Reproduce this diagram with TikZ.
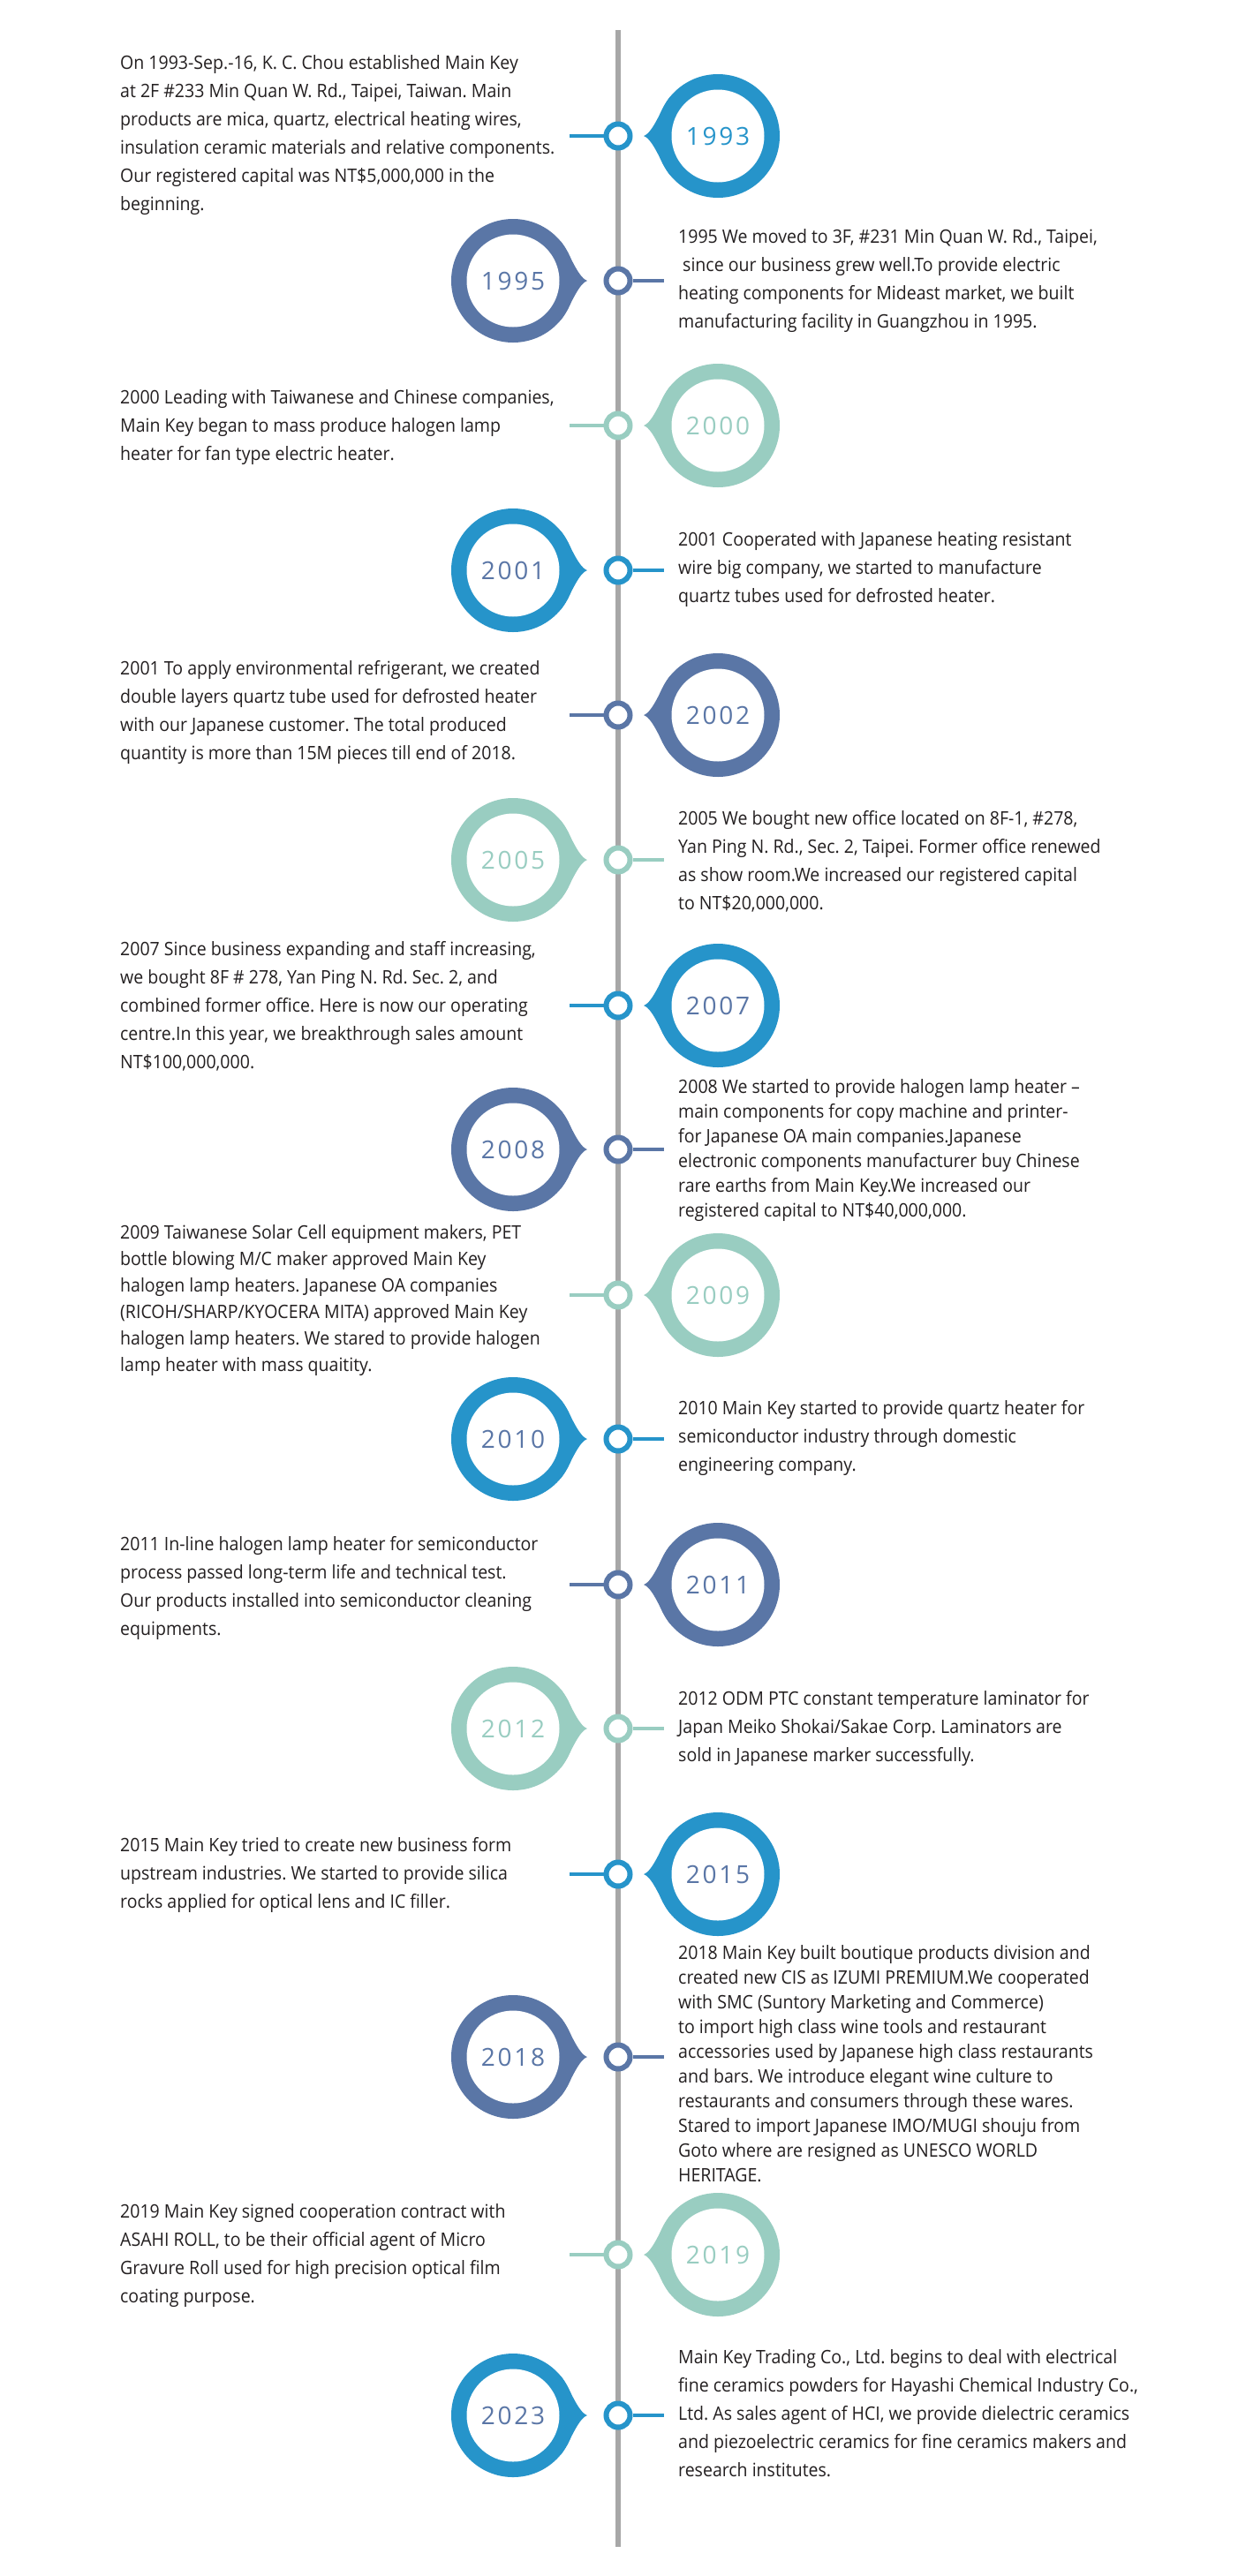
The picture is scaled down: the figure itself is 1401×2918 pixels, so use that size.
\documentclass[tikz,border=0pt]{standalone}
\usepackage{fontspec}
\setmainfont{Open Sans}[FakeStretch=0.93]
\newfontfamily\yearfont{Open Sans}[LetterSpace=10]
\frenchspacing
\definecolor{cblue}{HTML}{2694CA}
\definecolor{cslate}{HTML}{5A76A6}
\definecolor{cmint}{HTML}{99CDC1}
\definecolor{ctext}{HTML}{231F20}
\definecolor{cline}{HTML}{A7A7A7}
\tikzset{
  yearlbl/.style={font=\yearfont\fontsize{28}{28}\selectfont, inner sep=0pt},
  dotnode/.style={circle, fill=white, line width=6pt, minimum size=27pt, inner sep=0pt},
  conn/.style={line width=4.5pt},
  txt/.style={font=\frenchspacing\fontsize{21}{32}\selectfont, text=ctext, align=left, inner sep=0pt, anchor=west},
  txttight/.style={txt, font=\frenchspacing\fontsize{21}{28}\selectfont},
  txtmid/.style={txt, font=\frenchspacing\fontsize{21}{30}\selectfont},
}
% pin with circle on the right of the timeline (tip points left)
\newcommand\pinright[5]{%
  \begin{scope}[shift={(813,#2)}]
    \fill[#3] (0,0) circle[radius=70];
    \fill[#3] (140:70) .. controls +(230:16) and +(20:12) .. (-84,0)
              .. controls +(-20:12) and +(130:16) .. (220:70) -- cycle;
    \fill[white] (0,0) circle[radius=52.5];
    \node[yearlbl, text=#4] (y#1) at (0,0) {#5};
  \end{scope}
  \node[dotnode, draw=#3] (d#1) at (700,#2) {};
  \coordinate (e#1) at (645,#2);
  \draw[conn, #3] (d#1) -- (e#1);
}
% pin with circle on the left of the timeline (tip points right)
\newcommand\pinleft[5]{%
  \begin{scope}[shift={(581,#2)}]
    \begin{scope}[xscale=-1]
      \fill[#3] (0,0) circle[radius=70];
      \fill[#3] (140:70) .. controls +(230:16) and +(20:12) .. (-84,0)
                .. controls +(-20:12) and +(130:16) .. (220:70) -- cycle;
      \fill[white] (0,0) circle[radius=52.5];
    \end{scope}
    \node[yearlbl, text=#4] (y#1) at (0,0) {#5};
  \end{scope}
  \node[dotnode, draw=#3] (d#1) at (700,#2) {};
  \coordinate (e#1) at (752,#2);
  \draw[conn, #3] (d#1) -- (e#1);
}
\begin{document}
\begin{tikzpicture}[x=1pt, y=-1pt]
\useasboundingbox (0,0) rectangle (1401,2918);
\fill[white] (0,0) rectangle (1401,2918);
\coordinate (top) at (700,34);
\coordinate (bot) at (700,2885);
\draw[cline, line width=6pt] (top) -- (bot);

\pinright{a}{154}{cblue}{cblue}{1993}
\node[txt] (ta) at (136,153) {On 1993-Sep.-16, K. C. Chou established Main Key\\at 2F \#233 Min Quan W. Rd., Taipei, Taiwan. Main\\products are mica, quartz, electrical heating wires,\\insulation ceramic materials and relative components.\\Our registered capital was NT\$5,000,000 in the\\beginning.};

\pinleft{b}{318}{cslate}{cslate}{1995}
\node[txt] (tb) at (768,318) {1995 We moved to 3F, \#231 Min Quan W. Rd., Taipei,\\\hspace{5pt}since our business grew well.To provide electric\\heating components for Mideast market, we built\\manufacturing facility in Guangzhou in 1995.};

\pinright{c}{482}{cmint}{cmint}{2000}
\node[txt] (tc) at (136,484) {2000 Leading with Taiwanese and Chinese companies,\\Main Key began to mass produce halogen lamp\\heater for fan type electric heater.};

\pinleft{d}{646}{cblue}{cslate}{2001}
\node[txt] (td) at (768,645) {2001 Cooperated with Japanese heating resistant\\wire big company, we started to manufacture\\quartz tubes used for defrosted heater.};

\pinright{e}{810}{cslate}{cslate}{2002}
\node[txt] (te) at (136,807) {2001 To apply environmental refrigerant, we created\\double layers quartz tube used for defrosted heater\\with our Japanese customer. The total produced\\quantity is more than 15M pieces till end of 2018.};

\pinleft{f}{974}{cmint}{cmint}{2005}
\node[txt] (tf) at (768,976) {2005 We bought new office located on 8F-1, \#278,\\Yan Ping N. Rd., Sec. 2, Taipei. Former office renewed\\as show room.We increased our registered capital\\to NT\$20,000,000.};

\pinright{g}{1139}{cblue}{cslate}{2007}
\node[txt] (tg) at (136,1140) {2007 Since business expanding and staff increasing,\\we bought 8F \# 278, Yan Ping N. Rd. Sec. 2, and\\combined former office. Here is now our operating\\centre.In this year, we breakthrough sales amount\\NT\$100,000,000.};

\pinleft{h}{1302}{cslate}{cslate}{2008}
\node[txttight] (th) at (768,1303) {2008 We started to provide halogen lamp heater –\\main components for copy machine and printer-\\for Japanese OA main companies.Japanese\\electronic components manufacturer buy Chinese\\rare earths from Main Key.We increased our\\registered capital to NT\$40,000,000.};

\pinright{i}{1467}{cmint}{cmint}{2009}
\node[txtmid] (ti) at (136,1473) {2009 Taiwanese Solar Cell equipment makers, PET\\bottle blowing M/C maker approved Main Key\\halogen lamp heaters. Japanese OA companies\\(RICOH/SHARP/KYOCERA MITA) approved Main Key\\halogen lamp heaters. We stared to provide halogen\\lamp heater with mass quaitity.};

\pinleft{j}{1630}{cblue}{cslate}{2010}
\node[txt] (tj) at (768,1629) {2010 Main Key started to provide quartz heater for\\semiconductor industry through domestic\\engineering company.};

\pinright{k}{1795}{cslate}{cslate}{2011}
\node[txt] (tk) at (136,1799) {2011 In-line halogen lamp heater for semiconductor\\process passed long-term life and technical test.\\Our products installed into semiconductor cleaning\\equipments.};

\pinleft{l}{1958}{cmint}{cmint}{2012}
\node[txt] (tl) at (768,1958) {2012 ODM PTC constant temperature laminator for\\Japan Meiko Shokai/Sakae Corp. Laminators are\\sold in Japanese marker successfully.};

\pinright{m}{2123}{cblue}{cslate}{2015}
\node[txt] (tm) at (136,2124) {2015 Main Key tried to create new business form\\upstream industries. We started to provide silica\\rocks applied for optical lens and IC filler.};

\pinleft{n}{2330}{cslate}{cslate}{2018}
\node[txttight] (tn) at (768,2338) {2018 Main Key built boutique products division and\\created new CIS as IZUMI PREMIUM.We cooperated\\with SMC (Suntory Marketing and Commerce)\\to import high class wine tools and restaurant\\accessories used by Japanese high class restaurants\\and bars. We introduce elegant wine culture to\\restaurants and consumers through these wares.\\Stared to import Japanese IMO/MUGI shouju from\\Goto where are resigned as UNESCO WORLD\\HERITAGE.};

\pinright{o}{2554}{cmint}{cmint}{2019}
\node[txt] (to) at (136,2555) {2019 Main Key signed cooperation contract with\\ASAHI ROLL, to be their official agent of Micro\\Gravure Roll used for high precision optical film\\coating purpose.};

\pinleft{p}{2736}{cblue}{cslate}{2023}
\node[txt] (tp) at (768,2734) {Main Key Trading Co., Ltd. begins to deal with electrical\\fine ceramics powders for Hayashi Chemical Industry Co.,\\Ltd. As sales agent of HCI, we provide dielectric ceramics\\and piezoelectric ceramics for fine ceramics makers and\\research institutes.};
\end{tikzpicture}
\end{document}
